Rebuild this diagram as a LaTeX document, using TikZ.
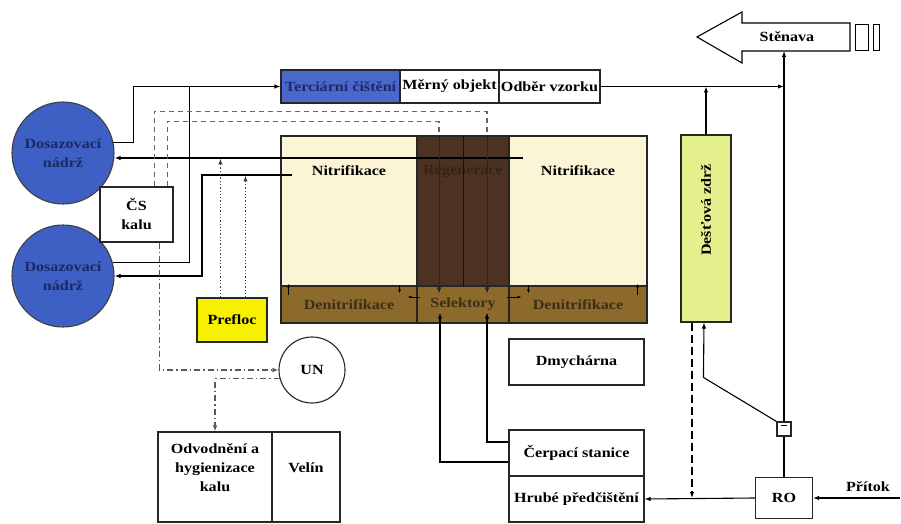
\documentclass[tikz,border=0pt]{standalone}
\usepackage{fontspec}
\setmainfont{Liberation Serif}[FakeStretch=1.15]
\usetikzlibrary{arrows.meta,calc}
\definecolor{tercblue}{HTML}{4A68CC}
\definecolor{dosblue}{HTML}{3E5FC4}
\definecolor{dostext}{HTML}{1B2A66}
\definecolor{nitrcream}{HTML}{FBF5D6}
\definecolor{regbrown}{HTML}{4B3222}
\definecolor{denibrown}{HTML}{8C6A2C}
\definecolor{denitext}{HTML}{3E2E18}
\definecolor{destgreen}{HTML}{E4F08C}
\definecolor{preflocyellow}{HTML}{F7F000}
\newcommand{\wwtpfont}{\fontsize{14}{19}\selectfont\bfseries}

\begin{document}
\begin{tikzpicture}[x=1pt,y=-1pt,line width=1.1pt,>={Latex[length=6pt,width=4.5pt]}]
			\tikzstyle{every node}+=[inner sep=0pt,font=\wwtpfont,align=center]
			\tikzstyle{unit}=[draw=black!85,rectangle]
			\tikzstyle{tank}=[draw=black!75,circle,fill=dosblue,text=dostext,minimum size=102]
			\tikzstyle{returnline}=[draw=black!60,line width=1.3pt,dash pattern=on 5pt off 4pt]
			\tikzstyle{sludgeline}=[draw=black!65,line width=1.3pt,dash pattern=on 6pt off 3pt on 1.5pt off 3pt]
			\tikzstyle{floc}=[draw=black!75,dotted,line width=1.3pt]
			\tikzstyle{tiny}=[-{Latex[length=4pt,width=3pt]},line width=0.8pt]
			\useasboundingbox (0,0) rectangle (901,524);
			% dosazovaci nadrze
			\node[tank] (dos1) at (63,153) {Dosazovací\\nádrž};
			\node[tank] (dos2) at (63,276) {Dosazovací\\nádrž};
			\node[unit,fill=white,minimum width=73,minimum height=55] (cs) at (136.5,214.5) {ČS\\kalu};
			% terciarni stupen
			\node[unit,fill=tercblue,text=dostext,minimum width=119,minimum height=33] (terc) at (340.5,86.5) {Terciární čištění};
			\node[unit,fill=white,minimum width=99,minimum height=33] (mer) at (449.5,86.5) {Měrný objekt};
			\node[unit,fill=white,minimum width=101,minimum height=33] (odb) at (549.5,86.5) {Odběr vzorku};
			% aktivace
			\node[unit,fill=nitrcream,minimum width=136,minimum height=150] (nitL) at (349,211) {};
			\node[unit,fill=regbrown,minimum width=92,minimum height=150] (reg) at (463,211) {};
			\node[unit,fill=nitrcream,minimum width=138,minimum height=150] (nitR) at (578,211) {};
			\node[unit,fill=denibrown,text=denitext,minimum width=136,minimum height=37] (denL) at (349,304.5) {Denitrifikace};
			\node[unit,fill=denibrown,text=denitext,minimum width=92,minimum height=37] (sel) at (463,304.5) {Selektory};
			\node[unit,fill=denibrown,text=denitext,minimum width=138,minimum height=37] (denR) at (578,304.5) {Denitrifikace};
			\node (nitLt) at ($(nitL.north)+(0,35)$) {Nitrifikace};
			\node (nitRt) at ($(nitR.north)+(0,35)$) {Nitrifikace};
			\node[text=regbrown!70!black] (regt) at ($(reg.north)+(0,36)$) {Regenerace};
			\draw[black!70!regbrown,line width=0.6pt] (reg.north) -- (reg.south);
			% ostatni objekty
			\node[unit,fill=preflocyellow,minimum width=70,minimum height=44] (pref) at (232,320) {Prefloc};
			\node[draw=black!85,circle,fill=white,minimum size=66] (un) at (312,370) {UN};
			\node[unit,minimum width=114,minimum height=90] (odv) at (215,477) {};
			\node (odvt) at ($(odv)+(0,-9)$) {Odvodnění a\\hygienizace\\kalu};
			\node[unit,minimum width=68,minimum height=90] (vel) at (306,477) {};
			\node (velt) at ($(vel)+(0,-9)$) {Velín};
			\node[unit,minimum width=135,minimum height=46] (dmy) at (576.5,362) {Dmychárna};
			\node[unit,minimum width=135,minimum height=46] (cerp) at (576.5,453) {Čerpací stanice};
			\node[unit,minimum width=135,minimum height=46] (hrube) at (576.5,499) {Hrubé předčištění};
			\node[unit,fill=destgreen,minimum width=50,minimum height=187] (dest) at (706,228.5) {};
			\node[rotate=90] (destt) at (706,210) {Dešťová zdrž};
			\node[unit,minimum width=57,minimum height=41] (ro) at (784,498) {RO};
			\node[unit,fill=white,minimum size=14] (valve) at (784,429) {};
			\draw[line width=0.6pt] ($(valve.north)+(-3,4)$) -- ++(6,0);
			\node (prit) at (868,487) {Přítok};
			% Stenava
			\draw[fill=white] (697,37) -- (742,12) -- (742,23) -- (850,23) -- (850,51) -- (742,51) -- (742,63) -- cycle;
			\node (sten) at (787,37) {Stěnava};
			\draw[line width=0.8pt] (855,24) rectangle (868,50);
			\draw[line width=0.8pt] (873,24) rectangle (879,50);
			% vratny kal a odtok
			\coordinate (retA) at (523,158);
			\coordinate (retB) at (292,175);
			\coordinate (jn) at ($(terc.west)+(-91,0)$);
			\draw[->] (retA) -- (dos1.east |- retA);
			\draw[->] (retB) -- ++(-90,0) |- (dos2.east);
			\draw[->] (dos1.12) -- ++(20,0) |- (terc.west);
			\draw (dos2.15) -| (jn);
			\draw[floc,->] ($(pref.north west)+(24,0)$) -- ++(0,-139);
			\draw[floc,->] ($(pref.north west)+(49,0)$) -- ++(0,-122);
			\draw[returnline] ($(cs.north west)+(55,0)$) |- ($(reg.north)+(24,-24)$) -- ($(reg.north)+(24,0)$);
			\draw[returnline] ($(cs.north west)+(68,0)$) |- ($(reg.north)+(-24,-14)$) -- ($(reg.north)+(-24,0)$);
			\draw[->,line width=0.7pt,black!85] ($(reg.north)+(24,0)$) -- ($(sel.north)+(24,8)$);
			\draw[->,line width=0.7pt,black!85] ($(reg.north)+(-24,0)$) -- ($(sel.north)+(-24,8)$);
			\draw[sludgeline,->] ($(cs.south west)+(60,0)$) |- (un.west);
			\draw[sludgeline,->] (un.195) -| (odv.north);
			\draw[->] ($(cerp.west)+(0,9)$) -| ($(sel.south)+(-23,-11)$);
			\draw[->] ($(cerp.west)+(0,-11)$) -| ($(sel.south)+(24,-11)$);
			% male sipky
			\draw[tiny] ($(denL.north west)+(8,10)$) -- ++(0,-12);
			\draw[tiny] ($(denL.north east)+(-18,0)$) -- ++(0,8);
			\draw[tiny] ($(sel.west)+(4,-7.5)$) -- ++(-13,0);
			\draw[tiny] ($(sel.east)+(-3,-7.5)$) -- ++(15,0);
			\draw[tiny] ($(denR.north west)+(20,0)$) -- ++(0,8);
			\draw[tiny] ($(denR.north east)+(-10,10)$) -- ++(0,-12);
			% odlehceni a pritok
			\coordinate (stenB) at (784,51);
			\coordinate (overflow) at ($(dest.south)+(-14,0)$);
			\coordinate (inlet) at (900,498);
			\draw (ro.north) -- (valve.south);
			\draw[->] (valve.north) -- (stenB);
			\draw[->] (odb.east) -- (odb.east -| valve);
			\draw[->] (dest.north) -- (dest.north |- odb.east);
			\draw[->] (valve.north west) -- ++(-73,-44) -- ($(dest.south)+(-2,0)$);
			\draw[dash pattern=on 8pt off 4pt,->] (overflow) -- (overflow |- ro.west);
			\draw[->] (ro.west) -- (hrube.east);
			\draw[->] (inlet) -- (ro.east);
		\end{tikzpicture}
\end{document}
